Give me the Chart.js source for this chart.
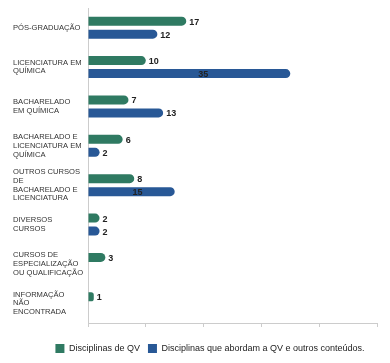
<!DOCTYPE html>
<html>
<head>
<meta charset="utf-8">
<script src="https://cdn.jsdelivr.net/npm/chart.js@4"></script>
<style>
  html, body { margin: 0; padding: 0; background: #fff; }
  #wrap { width: 390px; height: 363px; }
</style>
</head>
<body>
<div id="wrap"><canvas id="graph"></canvas></div>
<script>
const categorias = [
    ['PÓS-GRADUAÇÃO'],
    ['LICENCIATURA EM', 'QUÍMICA'],
    ['BACHARELADO', 'EM QUÍMICA'],
    ['BACHARELADO E', 'LICENCIATURA EM', 'QUÍMICA'],
    ['OUTROS CURSOS', 'DE', 'BACHARELADO E', 'LICENCIATURA'],
    ['DIVERSOS', 'CURSOS'],
    ['CURSOS DE', 'ESPECIALIZAÇÃO', 'OU QUALIFICAÇÃO'],
    ['INFORMAÇÃO', 'NÃO', 'ENCONTRADA']
];
const disciplinasQV = [17, 10, 7, 6, 8, 2, 3, 1];
const disciplinasOutros = [12, 35, 13, 2, 15, 2, 0, null];
const nomesSeries = ['Disciplinas de QV', 'Disciplinas que abordam a QV e outros conteúdos.'];

const verde = 'rgb(47,122,98)';
const azul = 'rgb(40,88,150)';

// rótulos de valor no fim de cada barra
const rotulos = {
    id: 'rotulos',
    afterLayout(chart) {
        // legenda um pouco deslocada para a direita, como no original
        chart.legend.left += 15;
        chart.legend.right += 15;
    },
    afterDatasetsDraw(chart) {
        const ctx = chart.ctx;
        const xs = chart.scales.x;
        ctx.save();
        ctx.font = 'bold 9px "Liberation Sans", Arial, sans-serif';
        ctx.fillStyle = '#222';
        ctx.textBaseline = 'middle';
        chart.data.datasets.forEach((ds, i) => {
            chart.getDatasetMeta(i).data.forEach((bar, j) => {
                const v = ds.data[j];
                if (v === null || v === 0) return;
                let x = bar.x + 3;
                // os valores maiores da 2a série ficam dentro da barra
                if (i === 1 && v > 14) {
                    ctx.textAlign = 'center';
                    x = xs.getPixelForValue(v * 0.57);
                } else {
                    ctx.textAlign = 'left';
                }
                ctx.fillText(v, x, bar.y + 1);
            });
        });
        ctx.restore();
    }
};

const data = {
    labels: categorias,
    datasets: [{
        label: nomesSeries[0],
        data: disciplinasQV,
        backgroundColor: verde,
        borderRadius: 5
    }, {
        label: nomesSeries[1],
        data: disciplinasOutros,
        backgroundColor: azul,
        borderRadius: 5
    }]
};

const config = {
    type: 'bar',
    data: data,
    options: {
        indexAxis: 'y',
        responsive: true,
        maintainAspectRatio: false,
        animation: false,
        datasets: {
            bar: { categoryPercentage: 0.66, barPercentage: 0.69 }
        },
        layout: { padding: { left: 13, right: 13, top: 8, bottom: 0 } },
        scales: {
            x: {
                min: 0,
                max: 50,
                afterFit(scale) { scale.height += 9; },
                ticks: { stepSize: 10, display: false },
                grid: { drawOnChartArea: false, drawTicks: true, tickLength: 4, color: '#ccc' },
                border: { color: '#ccc' }
            },
            y: {
                afterFit(scale) {
                    scale.width = 75;
                    scale.paddingTop = 0;
                    scale.paddingBottom = 0;
                },
                ticks: {
                    crossAlign: 'far',
                    color: '#333',
                    font: { family: '"Liberation Sans", Arial, sans-serif', size: 7.6, lineHeight: 1.14 }
                },
                grid: { display: false },
                border: { color: '#ccc' }
            }
        },
        plugins: {
            legend: {
                position: 'bottom',
                labels: {
                    boxWidth: 9,
                    boxHeight: 9,
                    padding: 8,
                    color: '#222',
                    font: { family: '"Liberation Sans", Arial, sans-serif', size: 9 }
                }
            },
            tooltip: { enabled: false }
        }
    },
    plugins: [rotulos]
};

const graph = document.querySelector('#graph');
new Chart(graph, config);
</script>
</body>
</html>
